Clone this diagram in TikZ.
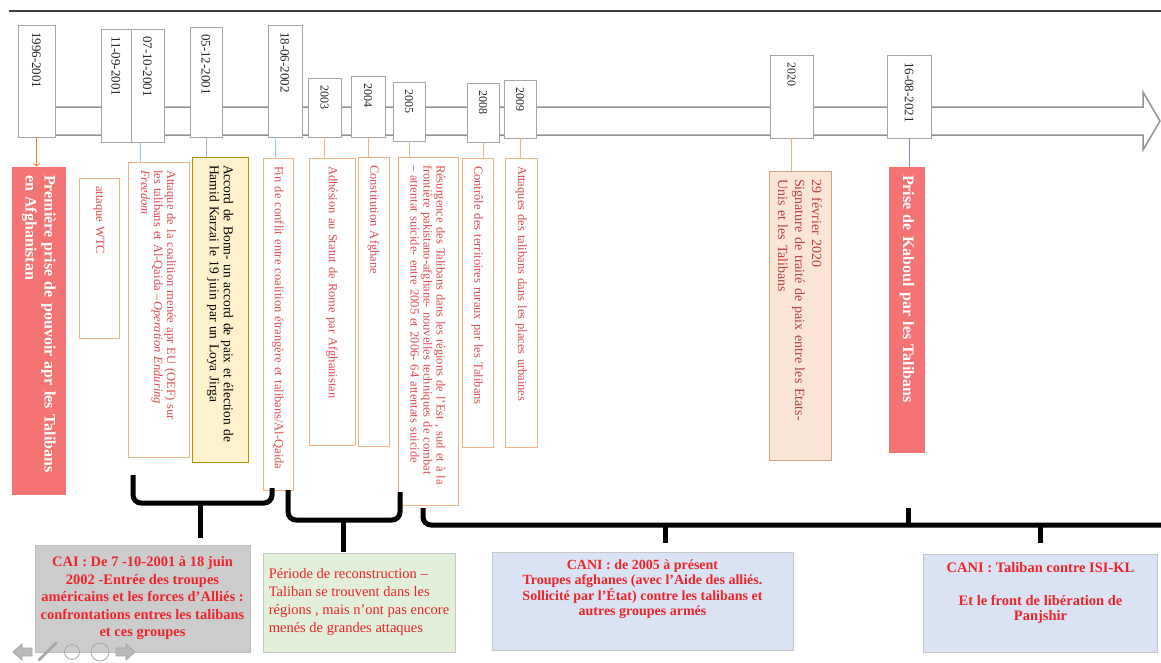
\documentclass[tikz,border=0pt]{standalone}
\usepackage{fontspec}
\setmainfont{Liberation Serif}
\usepackage{tikz}
\usetikzlibrary{positioning, calc, arrows.meta}
\definecolor{myorange}{HTML}{F4B183}
\definecolor{mydarkorange}{HTML}{ED7D31}
\definecolor{mysalmon}{HTML}{F47474}
\definecolor{myyellow}{HTML}{FFF2CC}
\definecolor{mygold}{HTML}{BF9000}
\definecolor{mypeach}{HTML}{FBE5D6}
\definecolor{mytan}{HTML}{C9A67A}
\definecolor{mylightblue}{HTML}{9DC3E6}
\definecolor{myslate}{HTML}{8497B0}
\definecolor{mygreen}{HTML}{E2F0D9}
\definecolor{myblue}{HTML}{DAE3F3}
\definecolor{myredtext}{HTML}{E04A50}
\definecolor{mybrightred}{HTML}{F0232A}
\tikzset{
	boxsize/.style 2 args={
			minimum width=#1pt,
			minimum height=#2pt
		},
	datenode/.style={
			shape=rectangle,
			rotate=-90,
			draw=gray!70,
			fill=white,
			line width=0.8pt,
			inner xsep=7pt,
			inner ysep=0pt,
			align=left,
			text=black!85,
			font=\fontsize{13}{15}\selectfont
		},
	yearnode/.style={
			datenode,
			font=\fontsize{12}{14}\selectfont
		},
	eventnode/.style={
			shape=rectangle,
			rotate=-90,
			draw=myorange,
			fill=white,
			line width=1pt,
			inner xsep=8pt,
			inner ysep=0pt,
			align=left,
			text=myredtext,
			font=\fontsize{12.5}{13}\selectfont
		},
	rednode/.style={
			eventnode,
			draw=none,
			fill=mysalmon,
			text=white,
			font=\fontsize{16}{19}\selectfont\bfseries
		},
	yellownode/.style={
			eventnode,
			draw=mygold,
			fill=myyellow,
			text=black,
			font=\fontsize{13.5}{14}\selectfont
		},
	peachnode/.style={
			eventnode,
			draw=mytan,
			fill=mypeach,
			text=myredtext!85!black,
			font=\fontsize{14}{17}\selectfont
		},
	periodnode/.style={
			shape=rectangle,
			draw=gray!45,
			line width=0.8pt,
			inner sep=0pt,
			align=center,
			text=mybrightred,
			font=\fontsize{14.5}{17.5}\selectfont\bfseries
		}
}
\tikzset{
	orangelink/.style={draw=myorange, line width=1pt},
	bluelink/.style={draw=mylightblue, line width=1pt},
	brace/.style={line width=5pt, rounded corners=8pt},
	icon/.style={draw=gray!70, fill=gray!55, line width=0.8pt}
}
\begin{document}
\begin{tikzpicture}[x=1pt, y=-1pt]

  \useasboundingbox (0,0) rectangle (1161,662);

  \draw[line width=2pt, black!75] (9,11) -- (1161,11);
  \draw[line width=1.5pt, draw=gray!85, fill=white]
    (20,107) -- (1143,107) -- (1143,92) -- (1160,121)
    -- (1143,150) -- (1143,135) -- (20,135) -- cycle;

  \node[datenode, boxsize={112}{37}, text width=98pt] (d1996) at (36.5,81) {1996-2001};
  \node[datenode, boxsize={113}{30}, text width=99pt] (d1109) at (116,85.5) {11-09-2001};
  \node[datenode, boxsize={113}{33}, text width=99pt] (d0710) at (147.5,85.5) {07-10-2001};
  \node[datenode, boxsize={110}{32}, text width=96pt] (d0512) at (206,82) {05-12-2001};
  \node[datenode, boxsize={112}{34}, text width=98pt] (d1806) at (285,81) {18-06-2002};
  \node[yearnode, boxsize={59}{33}, text width=45pt] (d2003) at (324.5,107.5) {2003};
  \node[yearnode, boxsize={61}{34}, text width=47pt] (d2004) at (368,106.5) {2004};
  \node[yearnode, boxsize={59}{32}, text width=45pt] (d2005) at (409,111.5) {2005};
  \node[yearnode, boxsize={59}{32}, text width=45pt] (d2008) at (483,112.5) {2008};
  \node[yearnode, boxsize={58}{32}, text width=44pt] (d2009) at (520,109) {2009};
  \node[yearnode, boxsize={83}{43}, text width=69pt] (d2020) at (791.5,96.5) {2020};
  \node[datenode, boxsize={83}{44}, text width=69pt] (d2021) at (909,96.5) {16-08-2021};

  \node[rednode, boxsize={328}{54}, text width=312pt] (e1996) at (39,331)
    {Première prise de pouvoir apr les Talibans\\en Afghanistan};
  \node[eventnode, boxsize={160}{40}, text width=144pt] (eWTC) at (99,258) {attaque WTC};
  \node[eventnode, boxsize={295}{61}, text width=279pt] (eOEF) at (158.5,309.5)
    {Attaque de la coalition menée apr EU (OEF) sur\\les talibans et Al-Qaida –\textit{Operation Enduring}\\\textit{Freedom}};
  \node[yellownode, boxsize={305}{56}, text width=289pt] (eBonn) at (220,309.5)
    {Accord de Bonn- un accord de paix et élection de\\Hamid Karzai le 19 juin par un Loya Jirga};
  \node[eventnode, boxsize={332}{30}, text width=316pt] (eFin) at (278,324)
    {Fin de conflit entre coalition étrangère et talibans/Al-Qaida};
  \node[eventnode, boxsize={287}{46}, text width=271pt] (eRome) at (332,301.5)
    {Adhésion au Statut de Rome par Afghanistan};
  \node[eventnode, boxsize={289}{31}, text width=273pt] (eConst) at (373.5,301.5)
    {Constitution Afghane};
  \node[eventnode, boxsize={348}{60}, text width=332pt] (eRes) at (428,331)
    {Résurgence des Talibans dans les régions de l'Est , sud et à la\\frontière pakistano-afghane- nouvelles techniques de combat\\– attentat suicide- entre 2005 et 2006- 64 attentats suicide};
  \node[eventnode, boxsize={289}{31}, text width=273pt] (eRural) at (477.5,302.5)
    {Contrôle des territoires ruraux par les  Talibans};
  \node[eventnode, boxsize={289}{32}, text width=273pt] (eUrb) at (521,302.5)
    {Attaques des talibans dans les places urbaines};
  \node[peachnode, boxsize={289}{62}, text width=273pt] (e2020) at (800,315.5)
    {29 février 2020\\Signature de traité de paix entre les Etats-\\Unis et les Talibans};
  \node[rednode, boxsize={286}{36}, text width=270pt] (e2021) at (907,310)
    {Prise de Kaboul par les Talibans};

  \coordinate (c0710) at ($(d0710.east)+(-7.5,0)$);
  \coordinate (c1806) at ($(d1806.east)+(-10,0)$);
  \draw[->, draw=mydarkorange, line width=0.8pt] (d1996.east) -- (d1996.east |- e1996.west);
  \draw[bluelink] (c0710) -- (c0710 |- eOEF.west);
  \draw[bluelink, draw=myslate!70] (d0512.east) -- (d0512.east |- eBonn.west);
  \draw[bluelink] (c1806) -- (c1806 |- eFin.west);
  \draw[orangelink] (d2003.east) -- (d2003.east |- eRome.west);
  \draw[orangelink] (d2004.east) -- (d2004.east |- eConst.west);
  \draw[orangelink] (d2005.east) -- (d2005.east |- eRes.west);
  \draw[orangelink] (d2008.east) -- (d2008.east |- eRural.west);
  \draw[orangelink] (d2009.east) -- (d2009.east |- eUrb.west);
  \draw[orangelink] (d2020.east) -- (d2020.east |- e2020.west);
  \draw[bluelink, draw=myslate] (d2021.east) -- (d2021.east |- e2021.west);

  \draw[brace] (133,475) -- (133,503) -- (272,503) -- (272,488);
  \draw[brace] (200,503) -- (200,538);
  \draw[brace] (288,490) -- (288,520) -- (400,520) -- (400,492);
  \draw[brace] (343,520) -- (343,552);
  \draw[brace] (423,508) -- (423,525) -- (1161,525);
  \draw[brace] (908,508) -- (908,525);
  \draw[brace] (665,525) -- (665,543);
  \draw[brace] (1040,525) -- (1040,543);

  \node[periodnode, fill=black!20, draw=black!25, boxsize={215}{107}] (cai) at (142.5,598.5)
    {CAI : De 7 -10-2001 à 18 juin\\2002 -Entrée des troupes\\américains et les forces d'Alliés :\\confrontations entres les talibans\\et ces groupes};
  \node[periodnode, fill=mygreen, align=left, font=\fontsize{14.5}{18}\selectfont, boxsize={192}{99}] (per) at (359,602.5)
    {Période  de reconstruction –\\Taliban se trouvent dans les\\régions , mais n'ont pas encore\\menés de grandes attaques};
  \node[periodnode, fill=myblue, boxsize={301}{98}] (cani1) at (642.5,601) {};
  \node[periodnode, draw=none, font=\fontsize{14}{15}\selectfont\bfseries, below=8pt of cani1.north]
    {CANI : de 2005 à présent\\Troupes afghanes (avec l'Aide des alliés.\\Sollicité par l'État) contre les talibans et\\autres groupes armés};
  \node[periodnode, draw=none, fill=myblue, boxsize={233}{97}] (cani2) at (1040.5,603.5) {};
  \draw[gray!45, line width=0.8pt] (cani2.north west) rectangle (cani2.south east);
  \node[periodnode, draw=none, font=\fontsize{14.5}{15}\selectfont\bfseries, below=7pt of cani2.north]
    {CANI : Taliban contre ISI-KL\\[18pt]Et le front de libération de\\Panjshir};

  \draw[icon] (13,652) -- (22,644) -- (22,648) -- (32,648) -- (32,656) -- (22,656) -- (22,660) -- cycle;
  \draw[icon, line width=2.5pt, line cap=round] (39,660) -- (56,643);
  \draw[icon, fill=none] (72,652) circle (7.5);
  \draw[icon, fill=none] (100,652) circle (9);
  \draw[icon] (135,652) -- (126,644) -- (126,648) -- (116,648) -- (116,656) -- (126,656) -- (126,660) -- cycle;

\end{tikzpicture}
\end{document}
